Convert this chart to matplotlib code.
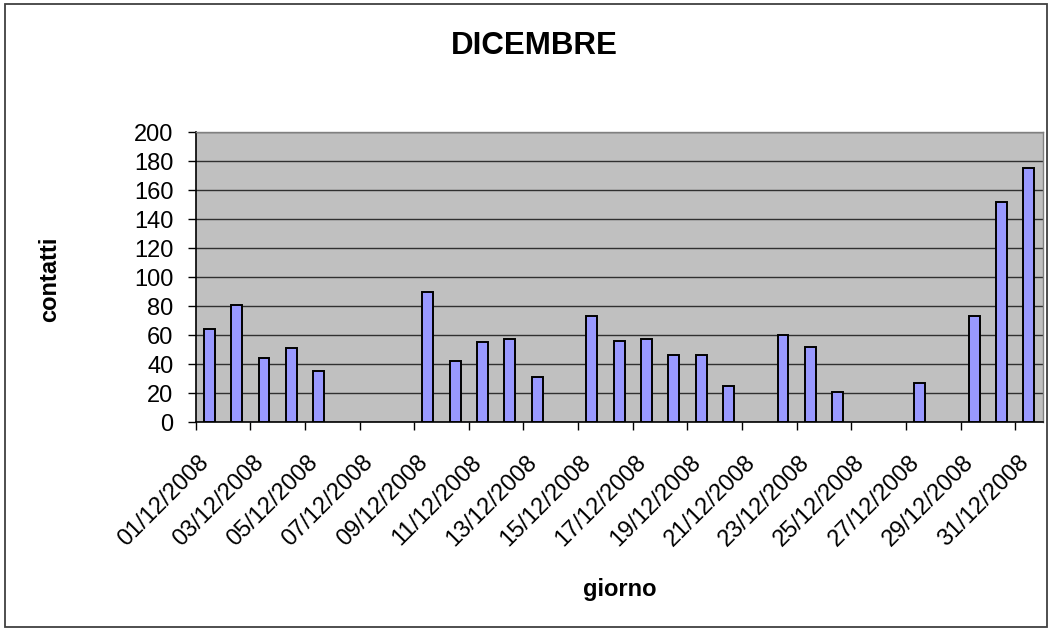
import matplotlib
matplotlib.use("Agg")
import matplotlib.pyplot as plt
import numpy as np

plt.rcParams['font.family'] = ['Liberation Sans', 'DejaVu Sans']

# Data: daily contacts, December 2008
giorni = ["%02d/12/2008" % d for d in range(1, 32)]
contatti = [64, 81, 44, 51, 35, 0, 0, 0, 90, 42,
            55, 57, 31, 0, 73, 56, 57, 46, 46, 25,
            0, 60, 52, 21, 0, 0, 27, 0, 73, 152, 175]

x = np.arange(1, len(giorni) + 1)
y = np.array(contatti)

fig = plt.figure(figsize=(10.52, 6.31), dpi=100)
# Outer chart border
fig.patches.append(plt.Rectangle((0.005, 0.007), 0.99, 0.986, transform=fig.transFigure,
                                 fill=False, edgecolor='#404040', linewidth=1.3))

ax = fig.add_axes([0.186, 0.3312, 0.805, 0.4596])
ax.set_facecolor('#C0C0C0')

# days with no contacts show no bar at all
nz = y > 0
ax.bar(x[nz], y[nz], width=0.4, color='#9999FF', edgecolor='black', linewidth=1.4, zorder=3)

# Y axis
ax.set_ylim(0, 200)
ax.set_yticks(np.arange(0, 201, 20))
ax.yaxis.grid(True, color='#303030', linewidth=1.0, zorder=1)
ax.set_axisbelow(True)
ax.tick_params(axis='y', direction='out', length=6, width=1, labelsize=17, pad=10)

# X axis: tick marks at slot boundaries every 2 days
ax.set_xlim(0.5, len(giorni) + 0.5)
ax.set_xticks(np.arange(0.5, len(giorni) + 0.5, 2))
ax.set_xticklabels([])
ax.tick_params(axis='x', which='major', direction='out', length=6, width=1, colors='black')
# labels sit a little left of the slot centre, like the Excel original
ax.set_xticks(x[::2] - 0.42, minor=True)
ax.set_xticklabels(giorni[::2], minor=True, rotation=45, ha='right',
                   rotation_mode='anchor', fontsize=17)
ax.tick_params(axis='x', which='minor', length=0, pad=21)

for s in ['top', 'right']:
    ax.spines[s].set_color('#808080')
    ax.spines[s].set_linewidth(1)
for s in ['left', 'bottom']:
    ax.spines[s].set_color('black')
    ax.spines[s].set_linewidth(1.2)

fig.text(0.508, 0.927, 'DICEMBRE', ha='center', va='center', fontsize=22.5, fontweight='bold')
fig.text(0.0475, 0.558, 'contatti', ha='center', va='center', rotation=90,
         fontsize=17, fontweight='bold')
fig.text(0.589, 0.066, 'giorno', ha='center', va='center', fontsize=17, fontweight='bold')

fig.savefig('out.png', dpi=100)
